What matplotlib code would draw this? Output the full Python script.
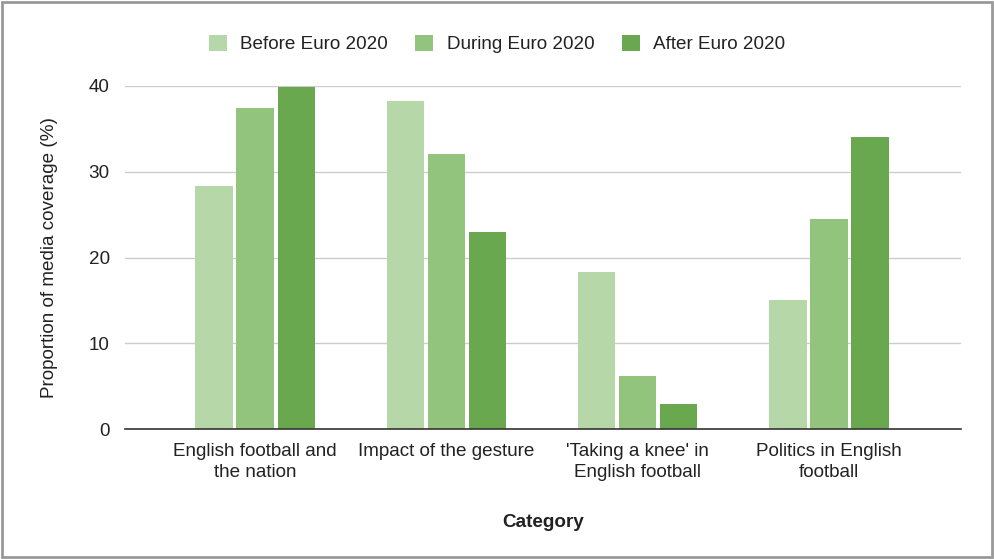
import matplotlib
matplotlib.use("Agg")
import matplotlib.pyplot as plt
import numpy as np
from matplotlib.patches import Rectangle

plt.rcParams['font.family'] = ['Liberation Sans', 'DejaVu Sans']

categories = ["English football and\nthe nation", "Impact of the gesture",
              "'Taking a knee' in\nEnglish football", "Politics in English\nfootball"]
series_names = ["Before Euro 2020", "During Euro 2020", "After Euro 2020"]
before = [28.3, 38.2, 18.3, 15.0]
during = [37.4, 32.1, 6.2, 24.5]
after = [39.9, 23.0, 2.9, 34.0]
colors = ["#b6d7a8", "#93c47d", "#6aa84f"]
yticks = [0, 10, 20, 30, 40]

FS = 13.6
fig = plt.figure(figsize=(9.94, 5.59), dpi=100)
ax = fig.add_axes([125/994, 1-429/559, (961-125)/994, (429-86)/559])

x = np.arange(len(categories))
slot = 0.215
width = 0.195
for i, (vals, name, c) in enumerate(zip([before, during, after], series_names, colors)):
    ax.bar(x + (i-1)*slot, vals, width=width, color=c, label=name, zorder=3)

ax.set_xlim(-0.68, 3.69)
ax.set_ylim(0, 40)
ax.set_yticks(yticks)
ax.set_yticklabels([str(t) for t in yticks], fontsize=FS, color="#222222")
ax.set_xticks(x)
ax.set_xticklabels(categories, fontsize=FS, color="#222222", linespacing=1.3)
ax.tick_params(axis='both', length=0)
ax.tick_params(axis='y', pad=11)
ax.tick_params(axis='x', pad=10)
ax.grid(axis='y', color="#cccccc", linewidth=1, zorder=0)
for s in ["top", "right", "left"]:
    ax.spines[s].set_visible(False)
ax.spines["bottom"].set_color("#333333")
ax.spines["bottom"].set_linewidth(1.2)
ax.spines["bottom"].set_zorder(4)

ax.set_ylabel("Proportion of media coverage (%)", fontsize=FS, color="#222222", labelpad=22)
ax.set_xlabel("Category", fontsize=FS, fontweight="bold", color="#222222", labelpad=24)

leg = fig.legend(loc="center", bbox_to_anchor=(0.5, 1-44/559), ncol=3, frameon=False,
                 fontsize=FS, handlelength=0.95, handleheight=0.95, columnspacing=1.45,
                 handletextpad=0.7)
for t in leg.get_texts():
    t.set_color("#222222")

fig.patches.append(Rectangle((0.002, 0.003), 0.996, 0.994, transform=fig.transFigure,
                             fill=False, edgecolor="#999999", linewidth=2))

fig.savefig("out.png", dpi=100, facecolor="white")
